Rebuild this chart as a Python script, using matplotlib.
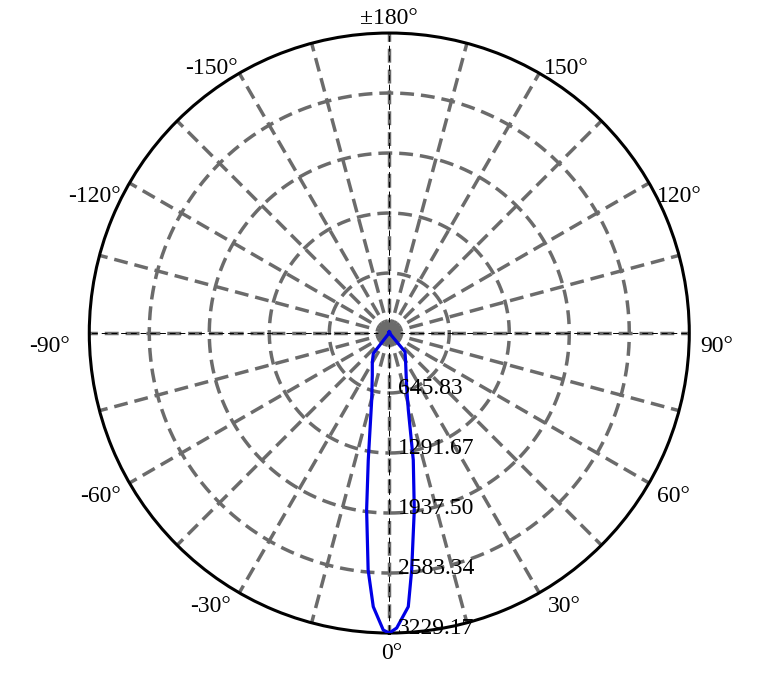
import numpy as np
import matplotlib
matplotlib.use("Agg")
import matplotlib.pyplot as plt

# luminous intensity curve (degrees, cd)
angles = [-180, -90, -50, -42, -38, -30, -22, -14.7, -9.4, -7.3, -5.1, -3.35, -1.16, 0,
          1.44, 3.97, 5.4, 8.04, 10.7, 13.9, 17.9, 30, 40, 43, 50, 90, 180]
intensity = [12, 8, 8, 20, 279, 366, 488, 746, 1385, 1920, 2561, 2951, 3198, 3229,
             3176, 2953, 2562, 1924, 1391, 853, 607, 351, 263, 20, 8, 8, 12]

ring_values = [645.83, 1291.67, 1937.50, 2583.34, 3229.17]
ring_labels = ["645.83", "1291.67", "1937.50", "2583.34", "3229.17"]
angle_ticks = [180, 150, 120, 90, 60, 30, 0, -30, -60, -90, -120, -150]
angle_labels = ["\u00b1180\u00b0", "150\u00b0", "120\u00b0", "90\u00b0", "60\u00b0", "30\u00b0", "0\u00b0",
                "-30\u00b0", "-60\u00b0", "-90\u00b0", "-120\u00b0", "-150\u00b0"]

plt.rcParams['font.family'] = ['Liberation Serif', 'DejaVu Serif']

fig = plt.figure(figsize=(7.75, 6.74), dpi=100)
ax = fig.add_axes([0.1152, 0.0608, 0.7742, 0.8902], projection='polar')
ax.set_theta_zero_location('S')
ax.set_theta_direction(1)
rmax = ring_values[-1]
ax.set_ylim(0, rmax)
ax.grid(False)
ax.set_xticks([])
ax.set_yticks([])
ax.spines['polar'].set_linewidth(2.2)
ax.spines['polar'].set_color('black')

gray = '#6b6b6b'
dash = (0, (4, 2))
full = np.linspace(0, 2 * np.pi, 400)
for rv in ring_values[:-1]:
    ax.plot(full, np.full_like(full, rv), color=gray, lw=2.5, ls=dash, zorder=1)
for a in range(0, 360, 15):
    t = np.deg2rad(a)
    ax.plot([t, t], [0, rmax], color=gray, lw=2.5, ls=dash, zorder=1)
# thin black dashes on main axes
for a in [0, 90, 180, 270]:
    t = np.deg2rad(a)
    ax.plot([t, t], [0, rmax], color='black', lw=0.7, ls=(0, (6, 4)), zorder=2)

ax.plot([0], [0], 'o', ms=16, color=gray, mew=0, zorder=3)

th = np.deg2rad(angles)
ax.plot(th, intensity, color='#0000e6', lw=2.3, zorder=5)

# radial labels along 0 deg axis
for rv, lab in zip(ring_values, ring_labels):
    ax.annotate(lab, xy=(0, rv), xytext=(6, -1), textcoords='offset points',
                ha='left', va='baseline', fontsize=17, zorder=6)

# angle labels
for a, lab in zip(angle_ticks, angle_labels):
    t = np.deg2rad(a)
    if a == 180:
        ax.annotate(lab, xy=(t, rmax), xytext=(0, 3), textcoords='offset points',
                    ha='center', va='bottom', fontsize=17)
    elif a == 0:
        ax.annotate(lab, xy=(t, rmax), xytext=(2, -7), textcoords='offset points',
                    ha='center', va='top', fontsize=17)
    elif abs(a) == 150:
        ha = 'left' if a > 0 else 'right'
        ax.annotate(lab, xy=(t, rmax), xytext=(3 if a > 0 else -1, -4), textcoords='offset points',
                    ha=ha, va='bottom', fontsize=17)
    else:
        ha = 'left' if a > 0 else 'right'
        dx = 6 if a > 0 else -6
        if abs(a) == 90:
            dx = 8 if a > 0 else -14
        ax.annotate(lab, xy=(t, rmax), xytext=(dx, -2), textcoords='offset points',
                    ha=ha, va='top', fontsize=17)

fig.savefig('out.png', dpi=100)
